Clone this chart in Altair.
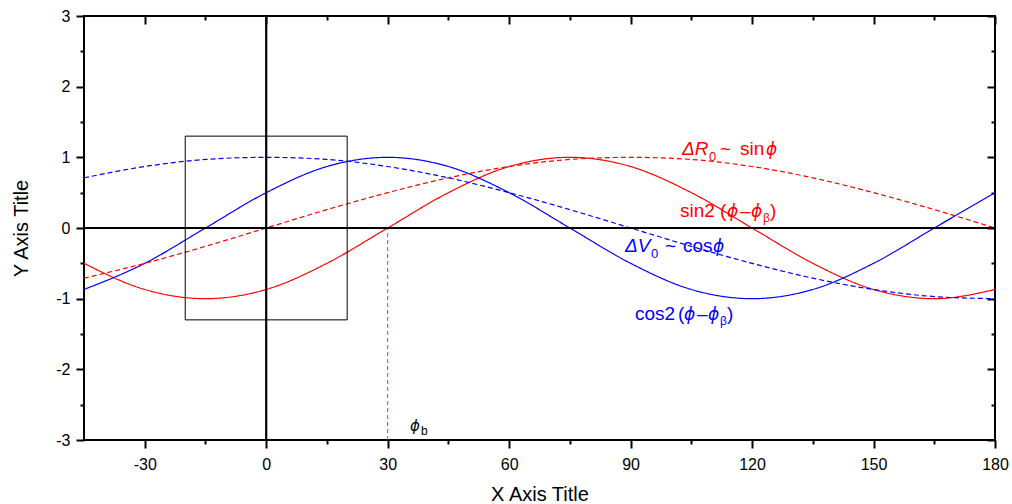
import altair as alt
import pandas as pd

FONT = "Liberation Sans"
PHI_FONT = "DejaVu Sans"

# ---- data ----
phi = [-45, -30, -15, 0, 15, 30, 45, 60, 75, 90, 105, 120, 135, 150, 165, 180]
sin2_vals = [-0.50, -0.87, -1.00, -0.87, -0.50, 0.00, 0.50, 0.87, 1.00, 0.87, 0.50, 0.00, -0.50, -0.87, -1.00, -0.87]
cos2_vals = [-0.87, -0.50, 0.00, 0.50, 0.87, 1.00, 0.87, 0.50, 0.00, -0.50, -0.87, -1.00, -0.87, -0.50, 0.00, 0.50]
sin_vals = [-0.71, -0.50, -0.26, 0.00, 0.26, 0.50, 0.71, 0.87, 0.97, 1.00, 0.97, 0.87, 0.71, 0.50, 0.26, 0.00]
cos_vals = [0.71, 0.87, 0.97, 1.00, 0.97, 0.87, 0.71, 0.50, 0.26, 0.00, -0.26, -0.50, -0.71, -0.87, -0.97, -1.00]
series_names = ["sin2", "cos2", "sin", "cos"]

x_major = [-30, 0, 30, 60, 90, 120, 150, 180]
x_minor = [-15, 15, 45, 75, 105, 135, 165]
y_major = [-3, -2, -1, 0, 1, 2, 3]
y_minor = [-2.5, -1.5, -0.5, 0.5, 1.5, 2.5]
x_domain = [-45, 180]
y_domain = [-3, 3]

phi_b = [30]
phi_b_y = [-3, 0]
box_x = [-20, 20]
box_y = [-1.3, 1.3]

ann_x = [102.7, 102.2, 88.6, 91.1, 35.5]
ann_y = [1.033, 0.156, -0.339, -1.302, -2.872]

# ---- styling ----
RED = "#FF0000"
BLUE = "#0000FF"
series_colors = [RED, BLUE, RED, BLUE]
series_dash = [[1, 0], [1, 0], [5, 3], [5, 3]]
ann_colors = [RED, RED, BLUE, BLUE, "#000000"]

# (text, italic, size, dx, dy, is_phi)
ann_pieces = [
    [("ΔR", True, 19, 0, 0, False), ("0", False, 13, 27, 6, False), ("~", False, 19, 38, 0, False),
     ("sin", False, 19, 58, 0, False), ("ϕ", True, 17, 84, 0, True)],
    [("sin2", False, 19, 0, 0, False), ("(", False, 19, 40, 0, False), ("ϕ", True, 17, 47, 0, True),
     ("–", False, 19, 60, 0, False), ("ϕ", True, 17, 71, 0, True), ("β", False, 12, 83, 5, False),
     (")", False, 19, 90, 0, False)],
    [("ΔV", True, 19, 0, 0, False), ("0", False, 13, 26, 6, False), ("~", False, 19, 40, 0, False),
     ("cos", False, 19, 58, 0, False), ("ϕ", True, 17, 88, 0, True)],
    [("cos2", False, 19, 0, 0, False), ("(", False, 19, 43, 0, False), ("ϕ", True, 17, 49, 0, True),
     ("–", False, 19, 62, 0, False), ("ϕ", True, 17, 73, 0, True), ("β", False, 12, 85, 5, False),
     (")", False, 19, 92, 0, False)],
    [("ϕ", True, 15, 0, 0, True), ("b", False, 12, 11, 4, False)],
]

XS = alt.Scale(domain=x_domain, nice=False, zero=False)
YS = alt.Scale(domain=y_domain, nice=False, zero=False)


def X(field, axis=None):
    return alt.X(field, type="quantitative", scale=XS, axis=axis)


def Y(field, axis=None):
    return alt.Y(field, type="quantitative", scale=YS, axis=axis)


rows = []
for name, vals in zip(series_names, [sin2_vals, cos2_vals, sin_vals, cos_vals]):
    for p, v in zip(phi, vals):
        rows.append({"phi": p, "value": v, "series": name})
curve_df = pd.DataFrame(rows)

curves = alt.Chart(curve_df).mark_line(strokeWidth=1.2, interpolate="monotone").encode(
    x=X("phi"),
    y=Y("value"),
    color=alt.Color("series:N", scale=alt.Scale(domain=series_names, range=series_colors), legend=None),
    strokeDash=alt.StrokeDash("series:N", scale=alt.Scale(domain=series_names, range=series_dash), legend=None),
    detail="series:N",
)

zero_v = alt.Chart(pd.DataFrame({"x": [0]})).mark_rule(color="black", strokeWidth=2.2).encode(x=X("x"))
zero_h = alt.Chart(pd.DataFrame({"y": [0]})).mark_rule(color="black", strokeWidth=2.2).encode(y=Y("y"))

phib_rule = alt.Chart(pd.DataFrame({"x": phi_b, "y": [phi_b_y[0]], "y2": [phi_b_y[1]]})).mark_rule(
    color="#FF3030", strokeWidth=1, strokeDash=[4, 3]
).encode(x=X("x"), y=Y("y"), y2="y2")

box = alt.Chart(pd.DataFrame({"x": [box_x[0]], "x2": [box_x[1]], "y": [box_y[0]], "y2": [box_y[1]]})).mark_rect(
    filled=False, stroke="black", strokeWidth=1
).encode(x=X("x"), x2="x2", y=Y("y"), y2="y2")

ann_df = pd.DataFrame({"x": ann_x, "y": ann_y})
texts = []
for i, pieces in enumerate(ann_pieces):
    for (t, ital, size, dx, dy, is_phi) in pieces:
        texts.append(
            alt.Chart(ann_df.iloc[[i]]).mark_text(
                text=t, align="left", baseline="alphabetic", dx=dx, dy=dy,
                fontSize=size, fontStyle="italic" if ital else "normal",
                font=PHI_FONT if is_phi else FONT, color=ann_colors[i],
            ).encode(x=X("x"), y=Y("y"))
        )

axis_df = pd.DataFrame({"x": x_domain, "y": y_domain})
LABEL_EXPR = "'' + datum.value"

common = dict(domain=False, grid=False, tickColor="black", tickWidth=2)

main_axes = alt.Chart(axis_df).mark_point(opacity=0).encode(
    x=X("x", alt.Axis(orient="bottom", values=x_major, tickSize=8, labelFontSize=16, labelFont=FONT,
                      labelColor="black", labelPadding=8, labelExpr=LABEL_EXPR, labelFlush=False,
                      labelOverlap=False, title="X Axis Title", titleFont=FONT, titleFontSize=20,
                      titleFontWeight="normal", titleColor="black", titleX=455.5, titleY=60,
                      titleBaseline="alphabetic", **common)),
    y=Y("y", alt.Axis(orient="left", values=y_major, tickSize=8, labelFontSize=16, labelFont=FONT,
                      labelColor="black", labelPadding=6, labelExpr=LABEL_EXPR, labelFlush=False,
                      labelOverlap=False, title="Y Axis Title", titleFont=FONT, titleFontSize=20,
                      titleFontWeight="normal", titleColor="black", titleX=-57, titleY=212,
                      titleAngle=270, titleBaseline="alphabetic", **common)),
)

minor_axes = alt.Chart(axis_df).mark_point(opacity=0).encode(
    x=X("x", alt.Axis(orient="bottom", values=x_minor, tickSize=4, labels=False, title=None, **common)),
    y=Y("y", alt.Axis(orient="left", values=y_minor, tickSize=4, labels=False, title=None, **common)),
)

mirror_major = alt.Chart(axis_df).mark_point(opacity=0).encode(
    x=X("x", alt.Axis(orient="top", offset=-8, values=x_major, tickSize=8, labels=False, title=None, **common)),
    y=Y("y", alt.Axis(orient="right", offset=-8, values=y_major, tickSize=8, labels=False, title=None, **common)),
)

mirror_minor = alt.Chart(axis_df).mark_point(opacity=0).encode(
    x=X("x", alt.Axis(orient="top", offset=-4, values=x_minor, tickSize=4, labels=False, title=None, **common)),
    y=Y("y", alt.Axis(orient="right", offset=-4, values=y_minor, tickSize=4, labels=False, title=None, **common)),
)

chart = alt.layer(
    curves, phib_rule, zero_v, zero_h, box, *texts,
    main_axes, minor_axes, mirror_major, mirror_minor,
).resolve_axis(
    x="independent", y="independent"
).properties(
    width=911, height=424,
    autosize=alt.AutoSizeParams(type="none"),
    padding={"left": 84, "top": 16, "right": 17, "bottom": 64},
    background="white",
).configure_view(
    stroke="black", strokeWidth=2
)

chart.save("out.html", embed_options={"renderer": "svg", "actions": False})
